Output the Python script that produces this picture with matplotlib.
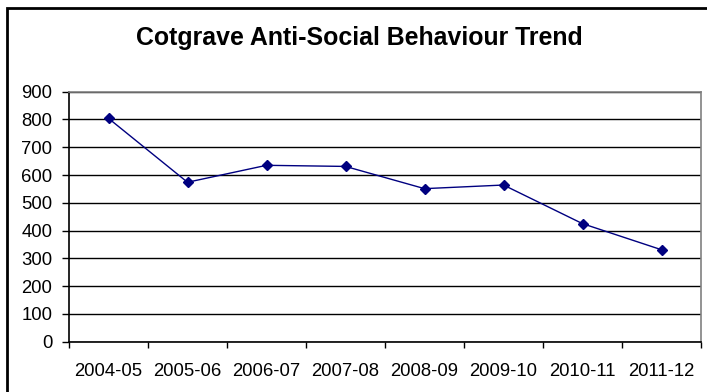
import matplotlib.pyplot as plt
from matplotlib.patches import Rectangle

years = ['2004-05', '2005-06', '2006-07', '2007-08', '2008-09', '2009-10', '2010-11', '2011-12']
incidents = [804, 574, 635, 631, 551, 564, 425, 331]
y_ticks = list(range(0, 1000, 100))

plt.rcParams['font.family'] = ['Liberation Sans', 'DejaVu Sans']

fig = plt.figure(figsize=(7.07, 3.92), dpi=100)
ax = fig.add_axes([69 / 707, 1 - 341.7 / 392, 632 / 707, 250 / 392])

x = [i + 0.5 for i in range(len(years))]
ax.plot(x, incidents, color='#000080', linewidth=1.0, marker='D', markersize=5,
        markerfacecolor='#000080', markeredgecolor='#000080', zorder=3)

ax.set_xlim(0, len(years))
ax.set_ylim(0, 900)
ax.set_yticks(y_ticks)
ax.set_xticks(range(len(years) + 1))
ax.set_xticklabels([])
ax.set_xticks(x, minor=True)
ax.set_xticklabels(years, minor=True)
ax.tick_params(axis='x', which='minor', length=0, pad=15, labelsize=13.3)
ax.tick_params(axis='x', which='major', length=4, width=1, direction='out')
ax.tick_params(axis='y', length=5, width=1, labelsize=13.3, pad=7)

ax.yaxis.grid(True, color='black', linewidth=1)
ax.set_axisbelow(True)
ax.spines['left'].set_color('black')
ax.spines['bottom'].set_color('black')
ax.spines['top'].set_color('#808080')
ax.spines['right'].set_color('#808080')
for s in ax.spines.values():
    s.set_linewidth(1.2)

fig.text(359 / 707, 1 - 38 / 392, 'Cotgrave Anti-Social Behaviour Trend',
         ha='center', va='center', fontsize=17.9, fontweight='bold')

# chart area border
fig.patches.append(Rectangle((6.5 / 707, -0.1), 1.2, (392 - 7.5) / 392 + 0.1,
                             transform=fig.transFigure, fill=False,
                             edgecolor='black', linewidth=2))

fig.savefig('out.png', dpi=100)
